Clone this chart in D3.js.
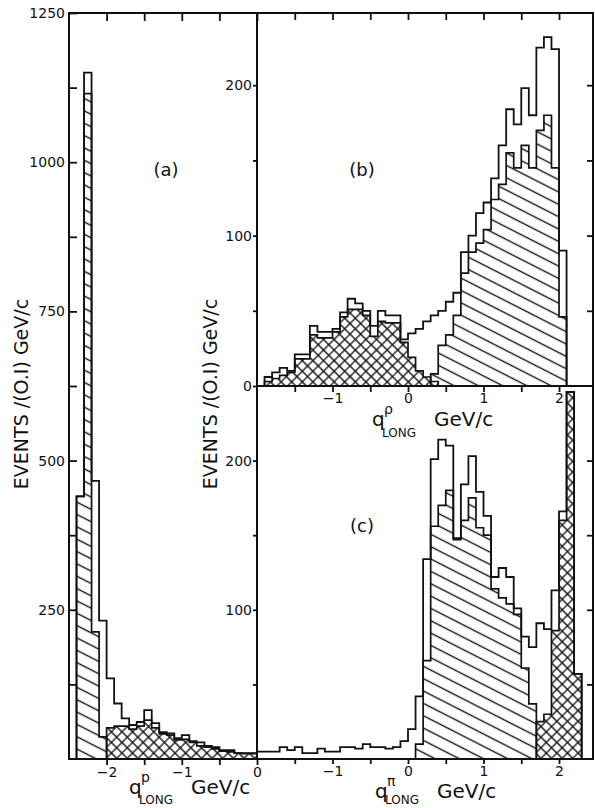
<!DOCTYPE html>
<html>
<head>
<meta charset="utf-8">
<script src="https://cdn.jsdelivr.net/npm/d3@7"></script>
<style>
  html, body { margin: 0; padding: 0; background: #fff; }
  svg { display: block; }
  text { font-family: "DejaVu Sans", "Liberation Sans", sans-serif; fill: #111; }
</style>
</head>
<body>
<svg id="chart" width="595" height="808"></svg>
<script>
// Bin width of every histogram (GeV/c)
const BIN = 0.1;

// ---- (a) q_LONG of the proton ----
const aTotalStart = -2.4;
const aTotal = [440, 1150, 466, 232, 135, 93, 68, 57, 62, 82, 60, 45, 43, 35, 40, 30, 28, 22, 20, 15, 15, 10, 10, 10];
const aHatchStart = -2.4;
const aHatch = [440, 1115, 213, 37];
const aCrossStart = -2.0;
const aCross = [52, 55, 55, 50, 55, 65, 52, 42, 40, 32, 33, 28, 22, 20, 17, 13, 12, 10, 9, 9];

// ---- (b) q_LONG of the rho ----
const bTotalStart = -1.9;
const bTotal = [6, 9, 12, 10, 21, 21, 40, 36, 36, 38,
                49, 58, 55, 50, 40, 50, 47, 47, 31, 35,
                38, 43, 47, 50, 56, 62, 89, 100, 115, 122,
                138, 160, 184, 174, 198, 180, 225, 232, 224, 90];
const bCrossStart = -1.9;
const bCross = [3, 5, 7, 9, 18, 18, 34, 32, 32, 36,
                46, 51, 51, 47, 33, 43, 42, 42, 29, 19,
                10, 6, 3];
const bHatchStart = 0.3;
const bHatch = [8, 27, 34, 47, 75, 89, 95, 104, 124, 134, 155, 145, 160, 145, 170, 180, 145, 46];

// ---- (c) q_LONG of the pion ----
const cTotalStart = -2.0;
const cTotal = [5, 5, 5, 8, 6, 8, 4, 4, 7, 5,
                5, 8, 8, 7, 10, 8, 8, 7, 8, 12,
                20, 42, 134, 201, 214, 210, 148, 184, 203, 179,
                163, 122, 128, 122, 101, 82, 75, 91, 87, 113,
                166, 246, 57];
const cHatchStart = 0.1;
const cHatch = [10, 66, 156, 170, 180, 147, 160, 175, 155, 150, 114, 108, 104, 97, 61, 37];
const cCrossStart = 1.7;
const cCross = [25, 30, 86, 160, 246, 57];

// Tick values
const aYTicks = d3.range(125, 1251, 125);
const aXTicks = [-2, -1.5, -1, -0.5, 0];
const bcXTicks = [-1.5, -1, -0.5, 0, 0.5, 1, 1.5, 2];
const bYTicks = [0, 50, 100, 150, 200];
const cYTicks = [50, 100, 150, 200];

const svg = d3.select("#chart");
const INK = "#111";

// Hatch patterns: single diagonal lines and diamond cross-hatching
const defs = svg.append("defs");
defs.append("pattern")
  .attr("id", "hatch").attr("patternUnits", "userSpaceOnUse")
  .attr("width", 11).attr("height", 11).attr("patternTransform", "rotate(27)")
  .append("line").attr("x1", 0).attr("y1", 5.5).attr("x2", 11).attr("y2", 5.5)
  .attr("stroke", INK).attr("stroke-width", 1.4);
defs.append("pattern")
  .attr("id", "cross").attr("patternUnits", "userSpaceOnUse")
  .attr("width", 7.5).attr("height", 7.5).attr("patternTransform", "rotate(45)")
  .append("path").attr("d", "M0,3.75H7.5M3.75,0V7.5")
  .attr("stroke", INK).attr("stroke-width", 1.3);

// Scales
const xa = d3.scaleLinear().domain([-2.5, 0]).range([69, 257]);
const ya = d3.scaleLinear().domain([0, 1250]).range([759, 13]);
const xbc = d3.scaleLinear().domain([-2, 2.45]).range([257, 593]);
const yb = d3.scaleLinear().domain([0, 248]).range([386, 13]);
const yc = d3.scaleLinear().domain([0, 250]).range([759, 386]);

function bins(start, values) {
  return values.map((v, i) => ({
    lo: +(start + i * BIN).toFixed(2),
    hi: +(start + (i + 1) * BIN).toFixed(2),
    v
  }));
}

function stepPoints(x, y, bs) {
  const pts = [[x(bs[0].lo), y(0)]];
  bs.forEach(b => { pts.push([x(b.lo), y(b.v)], [x(b.hi), y(b.v)]); });
  pts.push([x(bs[bs.length - 1].hi), y(0)]);
  return pts;
}

const line = d3.line();

function drawFilled(x, y, start, values, patternId) {
  svg.append("path")
    .attr("d", line(stepPoints(x, y, bins(start, values))) + "Z")
    .attr("fill", `url(#${patternId})`)
    .attr("stroke", INK).attr("stroke-width", 1.7)
    .attr("stroke-linejoin", "miter");
}

function drawOutline(x, y, start, values) {
  svg.append("path")
    .attr("d", line(stepPoints(x, y, bins(start, values))))
    .attr("fill", "none")
    .attr("stroke", INK).attr("stroke-width", 1.8)
    .attr("stroke-linejoin", "miter");
}

// Panel (a)
drawFilled(xa, ya, aHatchStart, aHatch, "hatch");
drawFilled(xa, ya, aCrossStart, aCross, "cross");
drawOutline(xa, ya, aTotalStart, aTotal);

// Panel (b)
drawFilled(xbc, yb, bHatchStart, bHatch, "hatch");
drawFilled(xbc, yb, bCrossStart, bCross, "cross");
drawOutline(xbc, yb, bTotalStart, bTotal);

// Panel (c)
drawFilled(xbc, yc, cHatchStart, cHatch, "hatch");
drawFilled(xbc, yc, cCrossStart, cCross, "cross");
drawOutline(xbc, yc, cTotalStart, cTotal);

// Frames
const frame = svg.append("g").attr("stroke", INK).attr("stroke-width", 2).attr("fill", "none");
frame.append("path").attr("d", `M${xa(-2.5)},${ya(0)}V${ya(1250)}H${xbc(2.45)}V${yc(0)}Z`);
frame.append("path").attr("d", `M${xbc(-2)},${yb(248)}V${yc(0)}`);
frame.append("path").attr("d", `M${xbc(-2)},${yb(0)}H${xbc(2.45)}`);

const intFmt = d => Number.isInteger(d) ? d3.format("d")(d) : "";

function styleAxis(g, size) {
  g.select(".domain").remove();
  g.selectAll(".tick line").attr("stroke", INK).attr("stroke-width", 1.8);
  g.selectAll("text").attr("font-size", size).attr("fill", INK)
    .attr("font-family", "DejaVu Sans, sans-serif");
  g.attr("font-size", null).attr("font-family", null);
}

// Axes of (a)
svg.append("g").attr("transform", `translate(${xa(-2.5)},0)`)
  .call(d3.axisLeft(ya).tickValues(aYTicks).tickSizeInner(-8).tickSizeOuter(0)
    .tickPadding(4).tickFormat(d => d % 250 === 0 ? d : ""))
  .call(g => styleAxis(g, 14));
svg.append("g").attr("transform", `translate(0,${ya(1250)})`)
  .call(d3.axisTop(xa).tickValues(aXTicks).tickSizeInner(-8).tickSizeOuter(0).tickFormat(""))
  .call(g => styleAxis(g, 14));
svg.append("g").attr("transform", `translate(0,${ya(0)})`)
  .call(d3.axisBottom(xa).tickValues(aXTicks).tickSizeInner(6).tickSizeOuter(0)
    .tickPadding(2).tickFormat(intFmt))
  .call(g => styleAxis(g, 14));

// Axes of (b)
svg.append("g").attr("transform", `translate(${xbc(-2)},0)`)
  .call(d3.axisLeft(yb).tickValues(bYTicks).tickSizeInner(4).tickSizeOuter(0)
    .tickPadding(1).tickFormat(d => d % 100 === 0 ? d : ""))
  .call(g => styleAxis(g, 14));
svg.append("g").attr("transform", `translate(${xbc(2.45)},0)`)
  .call(d3.axisRight(yb).tickValues(bYTicks.slice(1)).tickSizeInner(-6).tickSizeOuter(0).tickFormat(""))
  .call(g => styleAxis(g, 14));
svg.append("g").attr("transform", `translate(0,${yb(248)})`)
  .call(d3.axisTop(xbc).tickValues(bcXTicks).tickSizeInner(-7).tickSizeOuter(0).tickFormat(""))
  .call(g => styleAxis(g, 14));
svg.append("g").attr("transform", `translate(0,${yb(0)})`)
  .call(d3.axisBottom(xbc).tickValues(bcXTicks).tickSizeInner(6).tickSizeOuter(0)
    .tickPadding(1).tickFormat(intFmt))
  .call(g => styleAxis(g, 14));

// Axes of (c)
svg.append("g").attr("transform", `translate(${xbc(-2)},0)`)
  .call(d3.axisLeft(yc).tickValues(cYTicks).tickSizeInner(4).tickSizeOuter(0)
    .tickPadding(1).tickFormat(d => d % 100 === 0 ? d : ""))
  .call(g => styleAxis(g, 14));
svg.append("g").attr("transform", `translate(${xbc(2.45)},0)`)
  .call(d3.axisRight(yc).tickValues(cYTicks).tickSizeInner(-6).tickSizeOuter(0).tickFormat(""))
  .call(g => styleAxis(g, 14));
svg.append("g").attr("transform", `translate(0,${yc(0)})`)
  .call(d3.axisBottom(xbc).tickValues(bcXTicks).tickSizeInner(5).tickSizeOuter(0)
    .tickPadding(2).tickFormat(intFmt))
  .call(g => styleAxis(g, 14));

// Y-axis titles
const yTitle = "EVENTS /(O.I) GeV/c";
svg.append("text").attr("transform", "translate(28,394) rotate(-90)")
  .attr("text-anchor", "middle").attr("font-size", 19).text(yTitle);
svg.append("text").attr("transform", "translate(217,394) rotate(-90)")
  .attr("text-anchor", "middle").attr("font-size", 19).text(yTitle);

// X-axis titles: q with particle superscript and LONG subscript
function xTitle(qx, base, sup, subDy) {
  const g = svg.append("g");
  g.append("text").attr("x", qx).attr("y", base).attr("font-size", 20).text("q");
  g.append("text").attr("x", qx + 12).attr("y", base - 12).attr("font-size", 14).text(sup);
  g.append("text").attr("x", qx + 10).attr("y", base + subDy).attr("font-size", 12).text("LONG");
  g.append("text").attr("x", qx + 62).attr("y", base).attr("font-size", 20).text("GeV/c");
}
xTitle(129, 794, "p", 10);
xTitle(372, 426, "ρ", 11);
xTitle(375, 798, "π", 6);

// Panel letters
svg.append("text").attr("x", 166).attr("y", 176).attr("text-anchor", "middle").attr("font-size", 18).text("(a)");
svg.append("text").attr("x", 362).attr("y", 176).attr("text-anchor", "middle").attr("font-size", 18).text("(b)");
svg.append("text").attr("x", 362).attr("y", 532).attr("text-anchor", "middle").attr("font-size", 18).text("(c)");
</script>
</body>
</html>
